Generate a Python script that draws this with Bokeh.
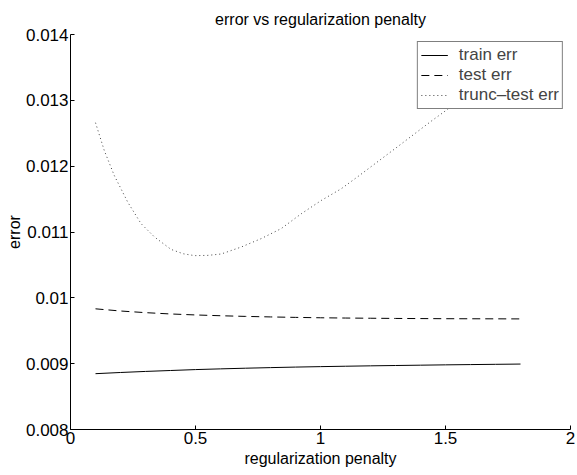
from bokeh.plotting import figure
from bokeh.models import FixedTicker, Legend, LegendItem, Title
from bokeh.embed import file_html
from bokeh.resources import INLINE

# ---- data ----
x_train = [0.1, 0.2, 0.3, 0.4, 0.5, 0.6, 0.7, 0.8, 0.9, 1.0, 1.1, 1.2, 1.3, 1.4, 1.5, 1.6, 1.7, 1.8]
train_err = [0.008848, 0.008866, 0.008882, 0.008896, 0.008910, 0.008921, 0.008931, 0.008940, 0.008948,
             0.008955, 0.008961, 0.008967, 0.008972, 0.008977, 0.008982, 0.008986, 0.008990, 0.008994]

x_test = [0.1, 0.2, 0.3, 0.4, 0.5, 0.6, 0.7, 0.8, 0.9, 1.0, 1.1, 1.2, 1.3, 1.4, 1.5, 1.6, 1.7, 1.8]
test_err = [0.009833, 0.009800, 0.009775, 0.009755, 0.009740, 0.009728, 0.009718, 0.009710, 0.009703,
            0.009697, 0.009693, 0.009690, 0.009687, 0.009685, 0.009683, 0.009682, 0.009681, 0.009680]

x_trunc = [0.1, 0.135, 0.175, 0.229, 0.282, 0.336, 0.402, 0.45, 0.496, 0.55, 0.603, 0.683, 0.763,
           0.843, 0.923, 1.003, 1.083, 1.15, 1.31, 1.443, 1.548, 1.65, 1.8]
trunc_test_err = [0.01266, 0.012239, 0.011859, 0.011453, 0.011128, 0.010924, 0.010736, 0.01067, 0.010641,
                  0.010645, 0.010666, 0.010772, 0.0109, 0.011052, 0.011277, 0.011479, 0.011657, 0.011843,
                  0.0123, 0.012684, 0.012973, 0.01327, 0.01375]

x_ticks = [0, 0.5, 1, 1.5, 2]
x_tick_labels = ["0", "0.5", "1", "1.5", "2"]
y_ticks = [0.008, 0.009, 0.01, 0.011, 0.012, 0.013, 0.014]
y_tick_labels = ["0.008", "0.009", "0.01", "0.011", "0.012", "0.013", "0.014"]

title_text = "error vs regularization penalty"
x_label_text = "regularization penalty"
y_label_text = "error"
series_names = ["train err", "test err", "trunc\u2013test err"]

FONT = "Liberation Sans"

p = figure(output_backend="svg", toolbar_location=None,
           frame_width=500, frame_height=395,
           min_border_left=70, min_border_right=7, min_border_top=34, min_border_bottom=46,
           x_range=(0, 2), y_range=(0.008, 0.014))
p.title.visible = False
p.outline_line_color = None
p.xgrid.visible = False
p.ygrid.visible = False
p.background_fill_color = "white"
p.border_fill_color = "white"

for ax in (p.xaxis[0], p.yaxis[0]):
    ax.axis_line_color = "black"
    ax.axis_line_width = 1
    ax.major_tick_in = 4
    ax.major_tick_out = 0
    ax.minor_tick_in = 0
    ax.minor_tick_out = 0
    ax.major_tick_line_color = "black"
    ax.major_label_text_font = FONT
    ax.major_label_text_font_size = "17px"
    ax.major_label_text_color = "black"
    ax.major_label_standoff = 2

p.xaxis[0].ticker = FixedTicker(ticks=x_ticks)
p.xaxis[0].major_label_overrides = {t: s for t, s in zip(x_ticks, x_tick_labels)}
p.yaxis[0].ticker = FixedTicker(ticks=y_ticks)
p.yaxis[0].major_label_overrides = {t: s for t, s in zip(y_ticks, y_tick_labels)}

r1 = p.line(x_train, train_err, line_color="black", line_width=1)
r2 = p.line(x_test, test_err, line_color="black", line_width=1, line_dash="8 5")
r3 = p.line(x_trunc, trunc_test_err, line_color="#444444", line_width=1, line_dash="1 3")

legend = Legend(items=[LegendItem(label=series_names[0], renderers=[r1]),
                       LegendItem(label=series_names[1], renderers=[r2]),
                       LegendItem(label=series_names[2], renderers=[r3])],
                location="top_right")
legend.label_text_font = FONT
legend.label_text_font_size = "17px"
legend.label_height = 16
legend.glyph_height = 16
legend.glyph_width = 27
legend.label_standoff = 11
legend.spacing = 0
legend.padding = 3
legend.margin = 7
legend.border_line_color = "black"
legend.border_line_width = 1
legend.background_fill_color = "white"
legend.background_fill_alpha = 1
p.add_layout(legend, "center")

p.add_layout(Title(text=title_text, align="center", offset=5, standoff=13,
                   text_font=FONT, text_font_size="16px", text_font_style="normal",
                   text_color="black"), "above")
p.add_layout(Title(text=x_label_text, align="center", offset=4, standoff=2,
                   text_font=FONT, text_font_size="16px", text_font_style="normal",
                   text_color="black"), "below")
p.add_layout(Title(text=y_label_text, align="center", standoff=0,
                   text_font=FONT, text_font_size="16px", text_font_style="normal",
                   text_color="black"), "left")

open("out.html", "w").write(file_html(p, INLINE))
